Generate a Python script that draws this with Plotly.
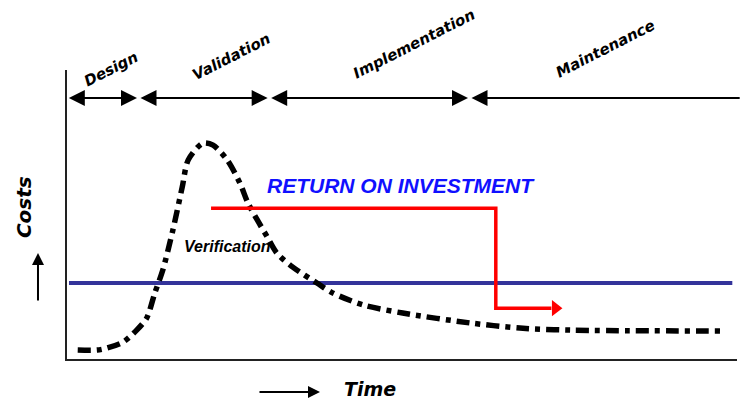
import plotly.graph_objects as go

# ---- data (conceptual units: time 0-100, cost 0-100) ----
curve_time = [1.6, 4.5, 6.0, 8.4, 10.4, 11.9, 13.1, 14.3, 15.8, 17.2, 18.1, 20.3, 21.8,
              23.9, 25.8, 27.0, 28.4, 29.9, 31.3, 33.7, 37.3, 39.7, 44.2, 50.1, 60.1,
              67.6, 75.1, 97.9]
curve_cost = [3.1, 3.1, 3.8, 5.9, 10.0, 14.2, 22.8, 30.8, 44.6, 59.5, 68.9, 74.7, 74.0,
              68.9, 60.9, 54.0, 48.1, 42.2, 36.7, 31.8, 26.3, 22.8, 18.7, 15.9, 12.5,
              10.7, 10.0, 9.7]

baseline_time = [0.3, 99.3]
baseline_cost = [26.3, 26.3]

roi_time = [21.5, 64.0, 64.0, 72.3]
roi_cost = [52.2, 52.2, 17.6, 17.6]

phase_names = ["Design", "Validation", "Implementation", "Maintenance"]
phase_bounds = [0.0, 10.6, 30.1, 60.0, 100.4]
phase_label_x = [6.6, 24.5, 51.8, 80.3]
phase_label_y = [100.3, 104.5, 109.0, 107.3]
phase_line_y = 90.3

fig = go.Figure()

fig.add_trace(go.Scatter(
    x=baseline_time, y=baseline_cost, mode="lines",
    line=dict(color="#33339a", width=4), hoverinfo="skip"))

fig.add_trace(go.Scatter(
    x=curve_time, y=curve_cost, mode="lines",
    line=dict(color="black", width=5.5, shape="spline", smoothing=0.8,
              dash="13px,6px,5px,6px"),
    hoverinfo="skip"))

fig.add_trace(go.Scatter(
    x=roi_time, y=roi_cost, mode="lines",
    line=dict(color="#ff0000", width=3.5), hoverinfo="skip"))
fig.add_trace(go.Scatter(
    x=[roi_time[-1] + 0.6], y=[roi_cost[-1]], mode="markers",
    marker=dict(symbol="triangle-right", size=14, color="#ff0000"),
    hoverinfo="skip"))

annotations = []
n = len(phase_names)
for i, name in enumerate(phase_names):
    left = phase_bounds[i] + (0.15 if i > 0 else 0.05)
    right = phase_bounds[i + 1] - (0.15 if i < n - 1 else 0)
    annotations.append(dict(
        x=right, y=phase_line_y, ax=left, ay=phase_line_y,
        xref="x", yref="y", axref="x", ayref="y", text="",
        showarrow=True, arrowhead=2, startarrowhead=2,
        arrowside="end+start" if i < n - 1 else "start",
        arrowsize=1.6, startarrowsize=1.6, arrowwidth=2, arrowcolor="black"))
    annotations.append(dict(
        x=phase_label_x[i] / 100, y=phase_label_y[i] / 100,
        xref="paper", yref="paper",
        text="<b><i>" + name + "</i></b>", showarrow=False, textangle=-27,
        font=dict(family="DejaVu Sans", size=15, color="black"),
        xanchor="center", yanchor="middle"))

annotations += [
    dict(x=49.9, y=60.2, xref="x", yref="y", showarrow=False,
         text="<b><i>RETURN ON INVESTMENT</i></b>",
         xanchor="center", yanchor="middle",
         font=dict(family="Liberation Sans", size=21, color="#1010ff")),
    dict(x=23.9, y=38.8, xref="x", yref="y", showarrow=False,
         text="<b><i>Verification</i></b>",
         xanchor="center", yanchor="middle",
         font=dict(family="Liberation Sans", size=16, color="black")),
    dict(x=-0.064, y=0.526, xref="paper", yref="paper", showarrow=False, textangle=-90,
         text="<b><i>Costs</i></b>", xanchor="center", yanchor="middle",
         font=dict(family="DejaVu Sans", size=20, color="black")),
    dict(x=0.452, y=-0.104, xref="paper", yref="paper", showarrow=False,
         text="<b><i>Time</i></b>", xanchor="center", yanchor="middle",
         font=dict(family="DejaVu Sans", size=19, color="black")),
    dict(x=-0.0433, y=0.3668, ax=0, ay=49, xref="paper", yref="paper",
         axref="pixel", ayref="pixel", text="", showarrow=True, arrowhead=2,
         arrowsize=1.2, arrowwidth=2, arrowcolor="black"),
    dict(x=0.3776, y=-0.1142, ax=-62, ay=0, xref="paper", yref="paper",
         axref="pixel", ayref="pixel", text="", showarrow=True, arrowhead=2,
         arrowsize=1.2, arrowwidth=2, arrowcolor="black"),
]

fig.update_layout(
    width=740, height=404,
    margin=dict(l=67, r=3, t=70, b=45),
    paper_bgcolor="white", plot_bgcolor="white",
    showlegend=False,
    annotations=annotations,
    xaxis=dict(range=[0, 100], showgrid=False, zeroline=False, showticklabels=False,
               ticks="", showline=True, linecolor="#222", linewidth=2, fixedrange=True),
    yaxis=dict(range=[0, 100], showgrid=False, zeroline=False, showticklabels=False,
               ticks="", showline=True, linecolor="#222", linewidth=2, fixedrange=True),
)

fig.write_html("out.html",
               config={"displayModeBar": False, "staticPlot": True},
               post_script="document.body.style.margin='0';"
                           "document.body.style.overflow='hidden';")
